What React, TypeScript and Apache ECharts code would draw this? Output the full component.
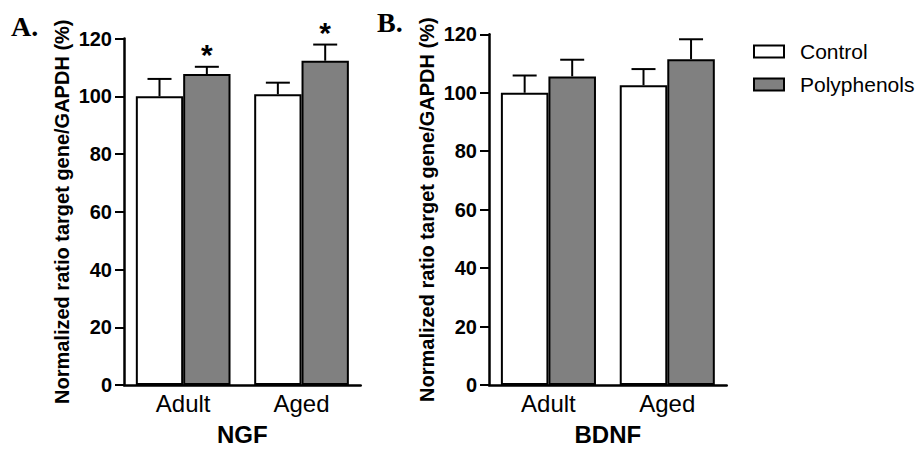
import React, { useEffect, useRef } from "react";
import * as echarts from "echarts";

// Age groups on the x axis
const categories = ["Adult", "Aged"];
const seriesNames = ["Control", "Polyphenols"];

// NGF expression (% of adult control), mean and SEM
const ngfControl = [100, 100.7];
const ngfControlErr = [6, 4];
const ngfPoly = [107.7, 112.3];
const ngfPolyErr = [2.5, 5.6];
const ngfPolySig = ["*", "*"];

// BDNF expression (% of adult control), mean and SEM
const bdnfControl = [100, 102.6];
const bdnfControlErr = [5.9, 5.5];
const bdnfPoly = [105.6, 111.5];
const bdnfPolyErr = [5.7, 6.8];
const bdnfPolySig = ["", ""];

// y-axis ticks
const yMin = 0;
const yMax = 120;
const yStep = 20;

const FONT = '"Liberation Sans", Arial, Helvetica, sans-serif';
const SERIF = '"Liberation Serif", "Times New Roman", serif';

type ErrPoint = { cat: number; value: number; err: number; side: number; mark: string };

function buildErr(ctrl: number[], ctrlErr: number[], poly: number[], polyErr: number[], sig: string[]): ErrPoint[] {
  const out: ErrPoint[] = [];
  categories.forEach((_, i) => {
    out.push({ cat: i, value: ctrl[i], err: ctrlErr[i], side: -1, mark: "" });
    out.push({ cat: i, value: poly[i], err: polyErr[i], side: 1, mark: sig[i] });
  });
  return out;
}

// Upper SEM whiskers (and significance marks) drawn over the bars
function errorSeries(points: ErrPoint[], axisIndex: number) {
  return {
    type: "custom",
    name: "err" + axisIndex,
    xAxisIndex: axisIndex,
    yAxisIndex: axisIndex,
    z: 5,
    silent: true,
    data: points.map((p) => [p.cat, p.value + p.err]),
    encode: { x: 0, y: 1 },
    renderItem: (params: any, api: any) => {
      const p = points[params.dataIndex];
      const band = api.size([1, 0])[0];
      const base = api.coord([p.cat, p.value]);
      const top = api.coord([p.cat, p.value + p.err]);
      const x = base[0] + p.side * band * 0.2;
      const cap = 12;
      const stroke = { stroke: "#000", lineWidth: 2 };
      const children: any[] = [
        { type: "line", shape: { x1: x, y1: base[1], x2: x, y2: top[1] }, style: stroke },
        { type: "line", shape: { x1: x - cap, y1: top[1], x2: x + cap, y2: top[1] }, style: stroke },
      ];
      if (p.mark) {
        children.push({
          type: "text",
          style: {
            text: p.mark,
            x,
            y: top[1] - 12,
            align: "center",
            verticalAlign: "middle",
            fontSize: 30,
            fontWeight: "bold",
            fontFamily: FONT,
            fill: "#000",
          },
        });
      }
      return { type: "group", children };
    },
  };
}

function barSeries(name: string, data: number[], color: string, axisIndex: number) {
  return {
    type: "bar",
    name,
    xAxisIndex: axisIndex,
    yAxisIndex: axisIndex,
    data,
    barGap: "0%",
    barCategoryGap: "20%",
    itemStyle: { color, borderColor: "#000", borderWidth: 2 },
  };
}

function xAxisFor(gridIndex: number, title: string) {
  return {
    type: "category",
    gridIndex,
    data: categories,
    name: title,
    nameLocation: "middle",
    nameGap: 37,
    nameTextStyle: { fontSize: 24, fontWeight: "bold", color: "#000", fontFamily: FONT },
    axisLine: { lineStyle: { color: "#000", width: 2.5 } },
    axisTick: { show: false },
    axisLabel: { fontSize: 24, color: "#000", margin: 6, fontFamily: FONT },
  };
}

function yAxisFor(gridIndex: number) {
  return {
    type: "value",
    gridIndex,
    min: yMin,
    max: yMax,
    interval: yStep,
    name: "Normalized ratio target gene/GAPDH (%)",
    nameLocation: "middle",
    nameRotate: 90,
    nameGap: 52,
    nameTextStyle: { fontSize: 20, fontWeight: "bold", color: "#000", fontFamily: FONT },
    axisLine: { show: true, lineStyle: { color: "#000", width: 2.5 } },
    axisTick: { show: true, length: 9, lineStyle: { color: "#000", width: 2 } },
    axisLabel: { fontSize: 20, fontWeight: "bold", color: "#000", margin: 12, fontFamily: FONT },
    splitLine: { show: false },
  };
}

export default function App() {
  const ref = useRef<HTMLDivElement>(null);

  useEffect(() => {
    if (!ref.current) return;
    const chart = echarts.init(ref.current, undefined, { renderer: "svg" });
    const option: any = {
      animation: false,
      backgroundColor: "#fff",
      textStyle: { fontFamily: FONT },
      legend: {
        data: seriesNames,
        orient: "vertical",
        left: 748,
        top: 35.5,
        icon: "rect",
        itemWidth: 30,
        itemHeight: 12,
        itemGap: 11,
        itemStyle: { borderColor: "#000", borderWidth: 2 },
        textStyle: { fontSize: 21, color: "#000", fontFamily: FONT, lineHeight: 22, padding: [0, 0, 0, 11] },
      },
      grid: [
        { left: 124, top: 38.5, width: 236.7, height: 354.5 },
        { left: 489, top: 34.3, width: 237.7, height: 354 },
      ],
      xAxis: [xAxisFor(0, "NGF"), xAxisFor(1, "BDNF")],
      yAxis: [yAxisFor(0), yAxisFor(1)],
      series: [
        barSeries(seriesNames[0], ngfControl, "#ffffff", 0),
        barSeries(seriesNames[1], ngfPoly, "#808080", 0),
        barSeries(seriesNames[0], bdnfControl, "#ffffff", 1),
        barSeries(seriesNames[1], bdnfPoly, "#808080", 1),
        errorSeries(buildErr(ngfControl, ngfControlErr, ngfPoly, ngfPolyErr, ngfPolySig), 0),
        errorSeries(buildErr(bdnfControl, bdnfControlErr, bdnfPoly, bdnfPolyErr, bdnfPolySig), 1),
      ],
      graphic: [
        {
          type: "text",
          left: 11,
          top: 12,
          style: { text: "A.", fontSize: 28, fontWeight: "bold", fontFamily: SERIF, fill: "#000" },
        },
        {
          type: "text",
          left: 377,
          top: 8.5,
          style: { text: "B.", fontSize: 28, fontWeight: "bold", fontFamily: SERIF, fill: "#000" },
        },
      ],
    };
    chart.setOption(option);
    return () => chart.dispose();
  }, []);

  return (
    <div
      ref={ref}
      style={{ position: "absolute", left: 0, top: 0, width: 918, height: 451, background: "#fff" }}
    />
  );
}
